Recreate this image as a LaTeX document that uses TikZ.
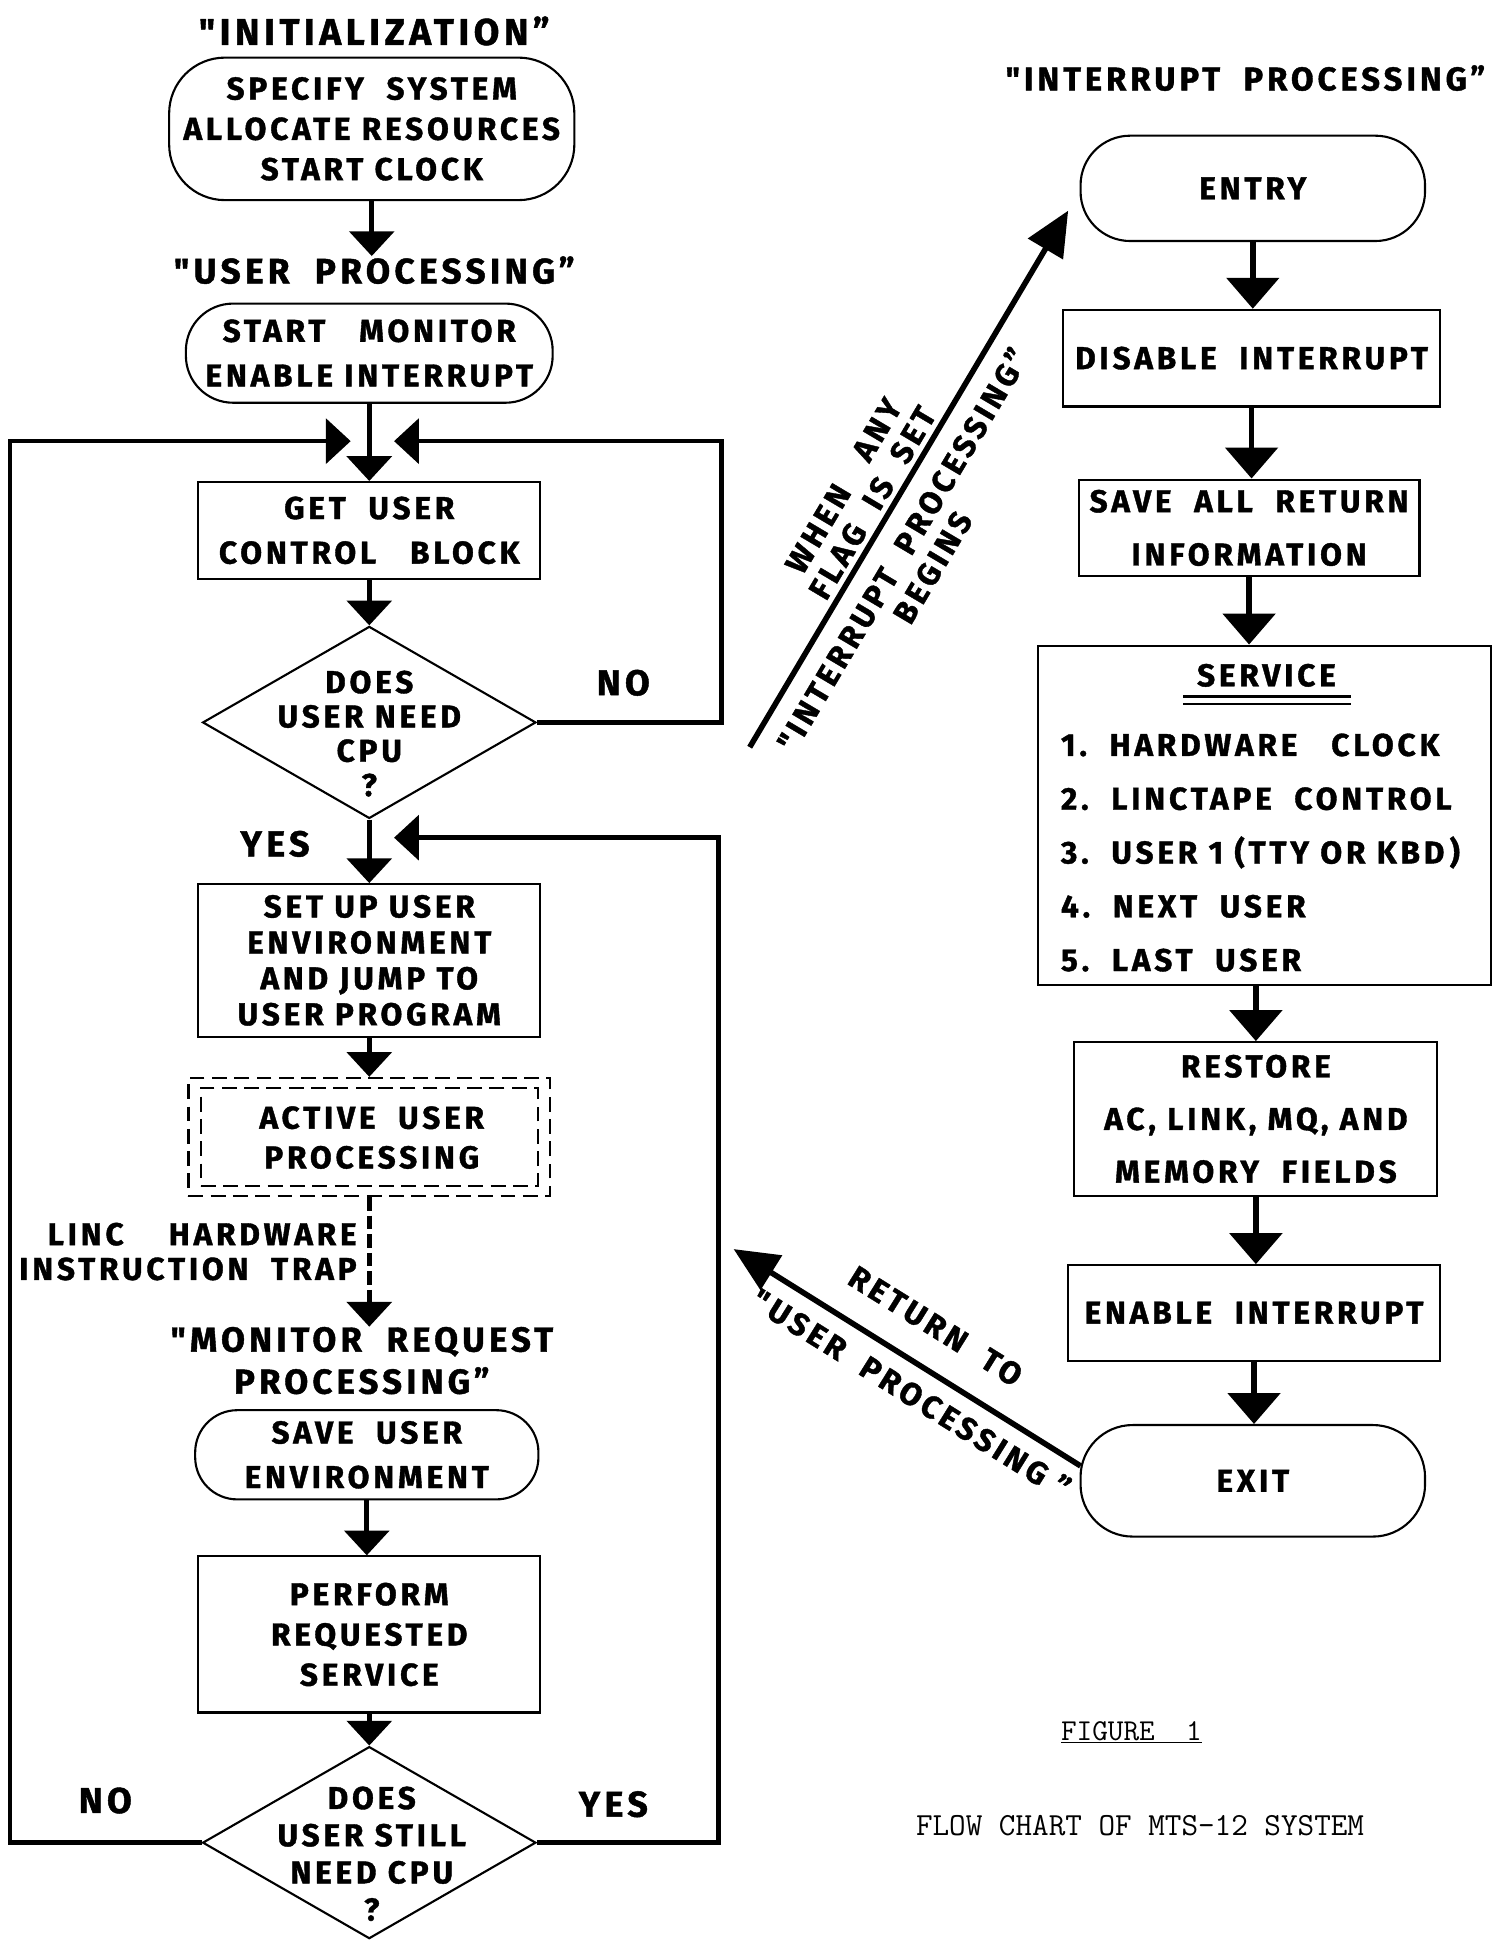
\documentclass[tikz,border=0pt]{standalone}
\usepackage{fontspec}
\setmainfont{Fira Sans}
\newfontfamily\lf{Fira Sans}[LetterSpace=12, BoldFeatures={FakeBold=1.2}]
\usetikzlibrary{arrows.meta,shapes.geometric,calc}
\tikzset{
  txt/.style={font=\lf\bfseries\fontsize{25.5}{#1}\selectfont, align=center, inner sep=0pt},
  ttl/.style={font=\lf\bfseries\fontsize{#1}{34}\selectfont, align=center, inner sep=0pt},
  lbl/.style={font=\lf\bfseries\fontsize{29}{34}\selectfont, inner sep=0pt},
  box/.style={draw, line width=1.7pt},
  term/.style={box, rounded corners=#1},
  conn/.style={line width=3.8pt, -{Triangle[width=36pt,length=20pt]}},
  connr/.style={line width=4.5pt, -{Triangle[width=42pt,length=25pt]}},
  diag/.style={line width=4.5pt, -{Triangle[width=32pt,length=36pt]}},
  dbox/.style={draw, line width=2pt, dash pattern=on 12pt off 6pt},
  captxt/.style={font=\ttfamily\fontsize{#1}{28}\selectfont, inner sep=0pt},
}
\begin{document}
\begin{tikzpicture}[x=1pt,y=-1pt]
\fill[white] (0,0) rectangle (1211,1568);
\useasboundingbox (0,0) rectangle (1211,1568);

% ---------- left column ----------
\node[ttl=30] (tinit) at (302,25) {"INITIALIZATION”};
\node[term=45pt, txt=32.5, minimum width=327pt, minimum height=115pt] (init) at (300,104)
  {SPECIFY\ \ SYSTEM\\ALLOCATE RESOURCES\\START CLOCK};
\node[ttl=28.5] (tuser) at (302,218) {"USER\ \ PROCESSING”};
\node[term=38pt, txt=36, minimum width=296pt, minimum height=80pt] (smon) at (298,285)
  {START\ \ \ MONITOR\\ENABLE INTERRUPT};
\node[box, txt=36, minimum width=276pt, minimum height=78pt] (gucb) at (298,428)
  {GET\ \ USER\\CONTROL\ \ \ BLOCK};
\node[box, diamond, minimum width=269pt, minimum height=155pt, inner sep=0pt] (d1) at (298,583) {};
\node[txt=27.7] (d1t) at (298,592) {DOES\\USER NEED\\CPU\\?};
\node[lbl] (no1) at (503,551) {NO};
\node[lbl] (yes1) at (222,681) {YES};
\node[box, txt=29, minimum width=276pt, minimum height=123pt] (setup) at (298,775)
  {SET UP USER\\ENVIRONMENT\\AND JUMP TO\\USER PROGRAM};
\node[dbox, minimum width=292pt, minimum height=95pt] (act) at (298,917.5) {};
\node[dbox, minimum width=272pt, minimum height=79pt] (acti) at (298,917.5) {};
\node[txt=32] (actt) at (300,918) {ACTIVE\ \ USER\\PROCESSING};
\node[txt=28, align=right, anchor=east] (linc) at (288,1010) {LINC\ \ \ \ HARDWARE\hspace{10pt}\\INSTRUCTION\ \ TRAP};
\node[ttl=28] (tmon) at (292,1098) {"MONITOR\ \ REQUEST\\PROCESSING”};
\node[term=34pt, txt=36, minimum width=277pt, minimum height=72pt] (sue) at (296,1174)
  {SAVE\ \ USER\\ENVIRONMENT};
\node[box, txt=32.5, minimum width=276pt, minimum height=126pt] (perf) at (298,1319)
  {PERFORM\\REQUESTED\\SERVICE};
\node[box, diamond, minimum width=269pt, minimum height=155pt, inner sep=0pt] (d2) at (298,1487) {};
\node[txt=30] (d2t) at (300,1496) {DOES\\USER STILL\\NEED CPU\\?};
\node[lbl] (no2) at (85,1453) {NO};
\node[lbl] (yes2) at (495,1456) {YES};

\coordinate (lx) at (8,0);
\coordinate (rx) at (582,0);
\coordinate (rx2) at (580,0);
\coordinate (inL) at (283,356);
\coordinate (inR) at (318,356);
\coordinate (inR2) at (318,676);

\draw[conn] (init.south) -- (init.south |- tuser.north);
\draw[conn] (smon.south) -- (gucb.north);
\draw[conn] (gucb.south) -- (d1.north);
\draw[conn] (d1.south) -- (setup.north);
\draw[conn] (setup.south) -- (act.north);
\draw[conn, dash pattern=on 11pt off 4pt] (act.south) -- (act.south |- tmon.north);
\draw[conn] (sue.south) -- (sue.south |- perf.north);
\draw[conn] (perf.south) -- (d2.north);
\draw[conn] (d2.west) -| (lx |- inL) -- (inL);
\draw[conn] (d1.east) -| (rx |- inR) -- (inR);
\draw[conn] (d2.east) -| (rx2 |- inR2) -- (inR2);

% ---------- right column ----------
\node[ttl=26.5] (tint) at (1005,63) {"INTERRUPT\ \ PROCESSING”};
\node[term=40pt, txt=30, minimum width=278pt, minimum height=85pt] (entry) at (1011,152) {ENTRY};
\node[box, txt=30, minimum width=304pt, minimum height=78pt] (dis) at (1010,289) {DISABLE\ \ INTERRUPT};
\node[box, txt=43, minimum width=275pt, minimum height=78pt] (sar) at (1008,426) {SAVE\ \ ALL\ \ RETURN\\INFORMATION};
\node[box, minimum width=365pt, minimum height=274pt] (srv) at (1020.5,658) {};
\node[txt=30] (srvt) at (1022,545) {SERVICE};
\draw[line width=2pt] (955,562) -- (1090,562) (955,568) -- (1090,568);
\node[txt=43.4, align=left, anchor=west] (slist) at (856,688)
  {1.\ \ HARDWARE\ \ \ CLOCK\\2.\ \ LINCTAPE\ \ CONTROL\\3.\ \ USER 1 (TTY OR KBD\,)\\4.\ \ NEXT\ \ USER\\5.\ \ LAST\ \ USER};
\node[box, txt=42.5, minimum width=293pt, minimum height=124pt] (rest) at (1013.5,903)
  {RESTORE\\AC, LINK, MQ, AND\\MEMORY\ \ FIELDS};
\node[box, txt=30, minimum width=300pt, minimum height=77pt] (enab) at (1012,1059.5) {ENABLE\ \ INTERRUPT};
\node[term=42pt, txt=30, minimum width=278pt, minimum height=90pt] (exit) at (1011,1195) {EXIT};

\draw[connr] (entry.south) -- (entry.south |- dis.north);
\draw[connr] (dis.south) -- (dis.south |- sar.north);
\draw[connr] (sar.south) -- (sar.south |- srv.north);
\draw[connr] (rest.north |- srv.south) -- (rest.north);
\draw[connr] (rest.south) -- (rest.south |- enab.north);
\draw[connr] (enab.south) -- (enab.south |- exit.north);

% diagonal arrows
\coordinate (dstart) at (605,603);
\coordinate (itip) at (862,170);
\draw[diag] (dstart) -- (itip);
\node[txt=27, rotate=59.3] (when) at (692.5,399) {WHEN\ \ \ ANY\\FLAG\ \ IS\ \ SET};
\node[txt=28, rotate=59.3] (ipb) at (740,450.5) {"INTERRUPT\ \ PROCESSING”\\BEGINS};

\coordinate (rtip) at (592,1008);
\coordinate (rstart) at (872,1183);
\draw[diag] (rstart) -- (rtip);
\node[txt=57, rotate=-31.9] (ret) at (745,1097.5) {RETURN\ \ TO\hspace*{12pt}\\\hspace*{12pt}"\,USER\ \ PROCESSING\ ”};

% caption
\node[captxt=24.5] (fig) at (913,1398) {\underline{FIGURE\ \ 1}};
\node[captxt=26] (capt) at (920,1473) {FLOW CHART OF MTS-12 SYSTEM};
\end{tikzpicture}
\end{document}
